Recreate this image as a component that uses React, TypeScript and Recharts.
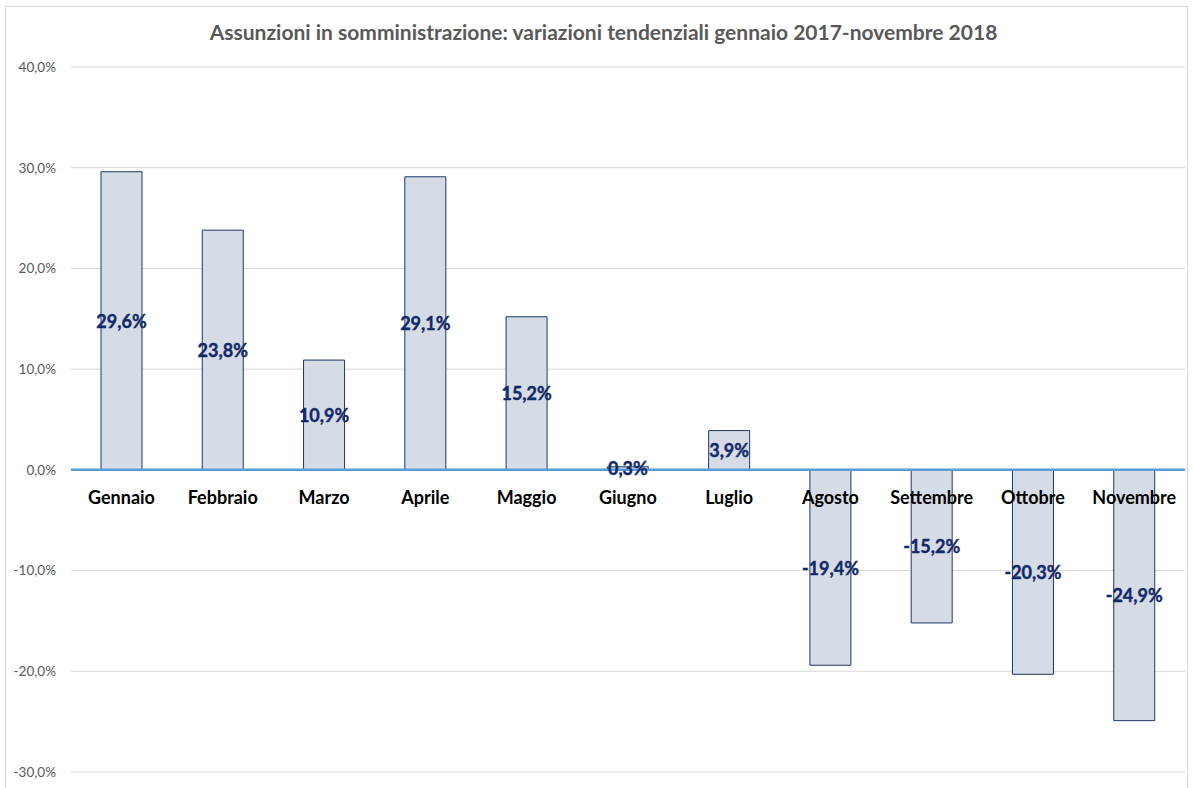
import React from "react";
import { BarChart, Bar, XAxis, YAxis, CartesianGrid, ReferenceLine, LabelList } from "recharts";

const months = ["Gennaio", "Febbraio", "Marzo", "Aprile", "Maggio", "Giugno", "Luglio", "Agosto", "Settembre", "Ottobre", "Novembre"];
const values = [29.6, 23.8, 10.9, 29.1, 15.2, 0.3, 3.9, -19.4, -15.2, -20.3, -24.9];
const yTicks = [-30, -20, -10, 0, 10, 20, 30, 40];
const title = "Assunzioni in somministrazione: variazioni tendenziali gennaio 2017-novembre 2018";

const data = months.map((m, i) => ({ month: m, value: values[i] }));

const FONT = "Lato, 'Noto Sans', sans-serif";
const fmt = (v: number) => v.toFixed(1).replace(".", ",") + "%";

const ValueLabel = (props: any) => {
  const { x, y, width, height, value } = props;
  return (
    <text x={x + width / 2} y={y + height / 2} textAnchor="middle" dominantBaseline="central"
      fontFamily={FONT} fontWeight={700} fontSize={18} fill="#12296A" stroke="#12296A" strokeWidth={0.4}>
      {fmt(value)}
    </text>
  );
};

const MonthLabel = (props: any) => {
  const { x, y, width, height, value } = props;
  return (
    <text x={x + width / 2} y={y + height + 27} textAnchor="middle" dominantBaseline="central"
      fontFamily={FONT} fontWeight={700} fontSize={18} fill="#000000">
      {value}
    </text>
  );
};

export default function App() {
  return (
    <div style={{ position: "absolute", left: 0, top: 0, width: 1193, height: 788, background: "#fff", overflow: "hidden" }}>
      <div style={{ position: "absolute", left: 5, top: 6, width: 1183, height: 800, border: "1px solid #D9D9D9", boxSizing: "border-box" }} />
      <div style={{ position: "absolute", left: 0, top: 19, width: 1207, textAlign: "center", fontFamily: FONT, fontWeight: 700, fontSize: 21, color: "#595959" }}>
        {title}
      </div>
      <BarChart width={1193} height={788} data={data} margin={{ top: 67, right: 8, bottom: 16, left: 0 }}>
        <CartesianGrid vertical={false} stroke="#D9D9D9" strokeWidth={1} />
        <XAxis dataKey="month" hide />
        <YAxis width={71} domain={[-30, 40]} ticks={yTicks} tickFormatter={fmt} axisLine={false} tickLine={false}
          tickSize={0} tickMargin={15} tick={{ fontFamily: FONT, fontSize: 13.5, fill: "#595959" }} />
        <ReferenceLine y={0} stroke="#5B9BD5" strokeWidth={2.5} />
        <Bar dataKey="value" barSize={41} fill="#D6DCE5" stroke="#1F3864" strokeWidth={1} isAnimationActive={false}>
          <LabelList dataKey="month" content={MonthLabel} />
          <LabelList dataKey="value" content={ValueLabel} />
        </Bar>
      </BarChart>
    </div>
  );
}
